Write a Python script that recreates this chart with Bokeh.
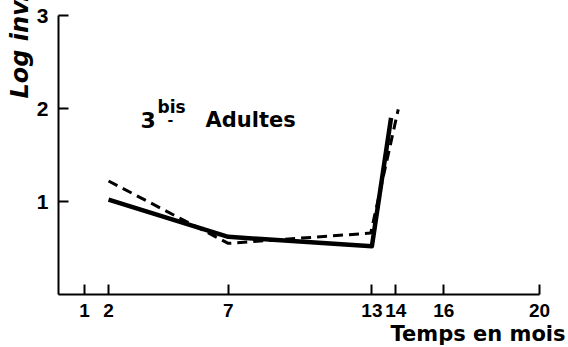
from bokeh.plotting import figure
from bokeh.models import Range1d, FixedTicker, Label, Title
from bokeh.embed import file_html
from bokeh.resources import INLINE

# Data
x_ticks = [1, 2, 7, 13, 14, 16, 20]
y_ticks = [1, 2, 3]
solid_x = [2, 7, 13, 13.8]
solid_y = [1.02, 0.62, 0.52, 1.90]
dashed_x = [2, 7, 12.95, 14.1]
dashed_y = [1.22, 0.55, 0.66, 1.99]

FONT = "DejaVu Sans"
TICKFONT = "Liberation Sans"

p = figure(width=566, height=345, output_backend="svg", toolbar_location=None,
           x_range=Range1d(-0.09, 20), y_range=Range1d(0, 3),
           min_border_left=58, min_border_right=27, min_border_top=15, min_border_bottom=50)
p.outline_line_color = None
p.xgrid.visible = False
p.ygrid.visible = False
p.background_fill_color = "white"

for ax, ticks in ((p.xaxis, x_ticks), (p.yaxis, y_ticks)):
    ax.ticker = FixedTicker(ticks=ticks)
    ax.major_tick_in = 10
    ax.major_tick_out = 0
    ax.minor_tick_line_color = None
    ax.axis_line_width = 2
    ax.major_tick_line_width = 2
    ax.axis_line_color = "black"
    ax.major_tick_line_color = "black"
    ax.major_label_text_font = TICKFONT
    ax.major_label_text_font_style = "bold"
    ax.major_label_text_color = "black"

p.xaxis.major_label_text_font_size = "19px"
p.yaxis.major_label_text_font_size = "21px"
p.xaxis.major_label_standoff = 9
p.yaxis.major_label_standoff = 10

p.line(solid_x, solid_y, line_color="black", line_width=4.5, line_join="round")
p.line(dashed_x, dashed_y, line_color="black", line_width=3, line_dash="10 6")

xt = Title(text="Temps en mois", align="right", offset=-26, standoff=0,
           text_font=FONT, text_font_size="21px", text_font_style="bold",
           text_color="black")
p.add_layout(xt, "below")
yt = Title(text="Log inv.", align="left", offset=196, standoff=0,
           text_font=FONT, text_font_size="24px", text_font_style="bold italic",
           text_color="black")
p.add_layout(yt, "left")

p.add_layout(Label(x=82, y=175, x_units="screen", y_units="screen",
                   text="3", text_font=FONT, text_font_size="22px",
                   text_font_style="bold", text_baseline="alphabetic", text_color="black"))
p.add_layout(Label(x=99, y=188, x_units="screen", y_units="screen",
                   text="bis", text_font=FONT, text_font_size="17px",
                   text_font_style="bold", text_baseline="alphabetic", text_color="black"))
p.add_layout(Label(x=109, y=175, x_units="screen", y_units="screen",
                   text="-", text_font=FONT, text_font_size="14px",
                   text_font_style="bold", text_baseline="alphabetic", text_color="black"))
p.add_layout(Label(x=147, y=175, x_units="screen", y_units="screen",
                   text="Adultes", text_font=FONT, text_font_size="21px",
                   text_font_style="bold", text_baseline="alphabetic", text_color="black"))

open("out.html", "w").write(file_html(p, INLINE))
